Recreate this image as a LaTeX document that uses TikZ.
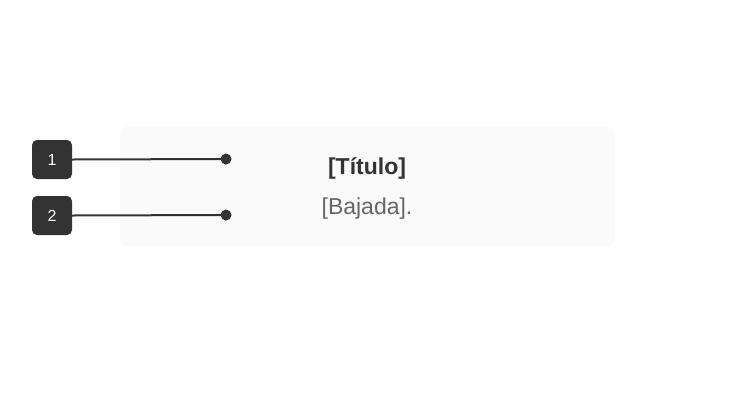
\documentclass[tikz,border=0pt]{standalone}
\usepackage{fontspec}
\setmainfont{Liberation Sans}
\usetikzlibrary{positioning}
\definecolor{cardgray}{HTML}{FAFAFA}
\definecolor{darkgray}{HTML}{333333}
\definecolor{subgray}{HTML}{666666}
\tikzset{
  badge/.style={draw=none,fill=darkgray,rounded corners=5pt,minimum width=40pt,minimum height=39pt,inner sep=0pt,text=white,font=\fontsize{16}{18}\selectfont},
  leader/.style={draw=darkgray,line width=2pt},
  tip/.style={circle,fill=darkgray,minimum size=11pt,inner sep=0pt}
}
\begin{document}
\begin{tikzpicture}[x=1pt,y=-1pt]
        %% Canvas
        \useasboundingbox[fill=white] (0,0) rectangle (735,405);
        %% Card
        \node[fill=cardgray,rounded corners=8pt,minimum width=494pt,minimum height=120pt,inner sep=0pt,anchor=north west] (card) at (120,126) {};
        \node[font=\fontsize{23}{27}\selectfont\bfseries,text=darkgray] (title) at (367,168) {[Título]};
        \node[font=\fontsize{23}{27}\selectfont,text=subgray] (sub) at (367,209) {[Bajada].};
        %% Badges
        \node[badge] (b1) at (52,159.5) {1};
        \node[badge] (b2) at (52,215.5) {2};
        %% Leaders
        \node[tip] (d1) at (226,159) {};
        \node[tip] (d2) at (226,215) {};
        \draw[leader] (b1.east) -- (d1.center);
        \draw[leader] (b2.east) -- (d2.center);
    \end{tikzpicture}
\end{document}
